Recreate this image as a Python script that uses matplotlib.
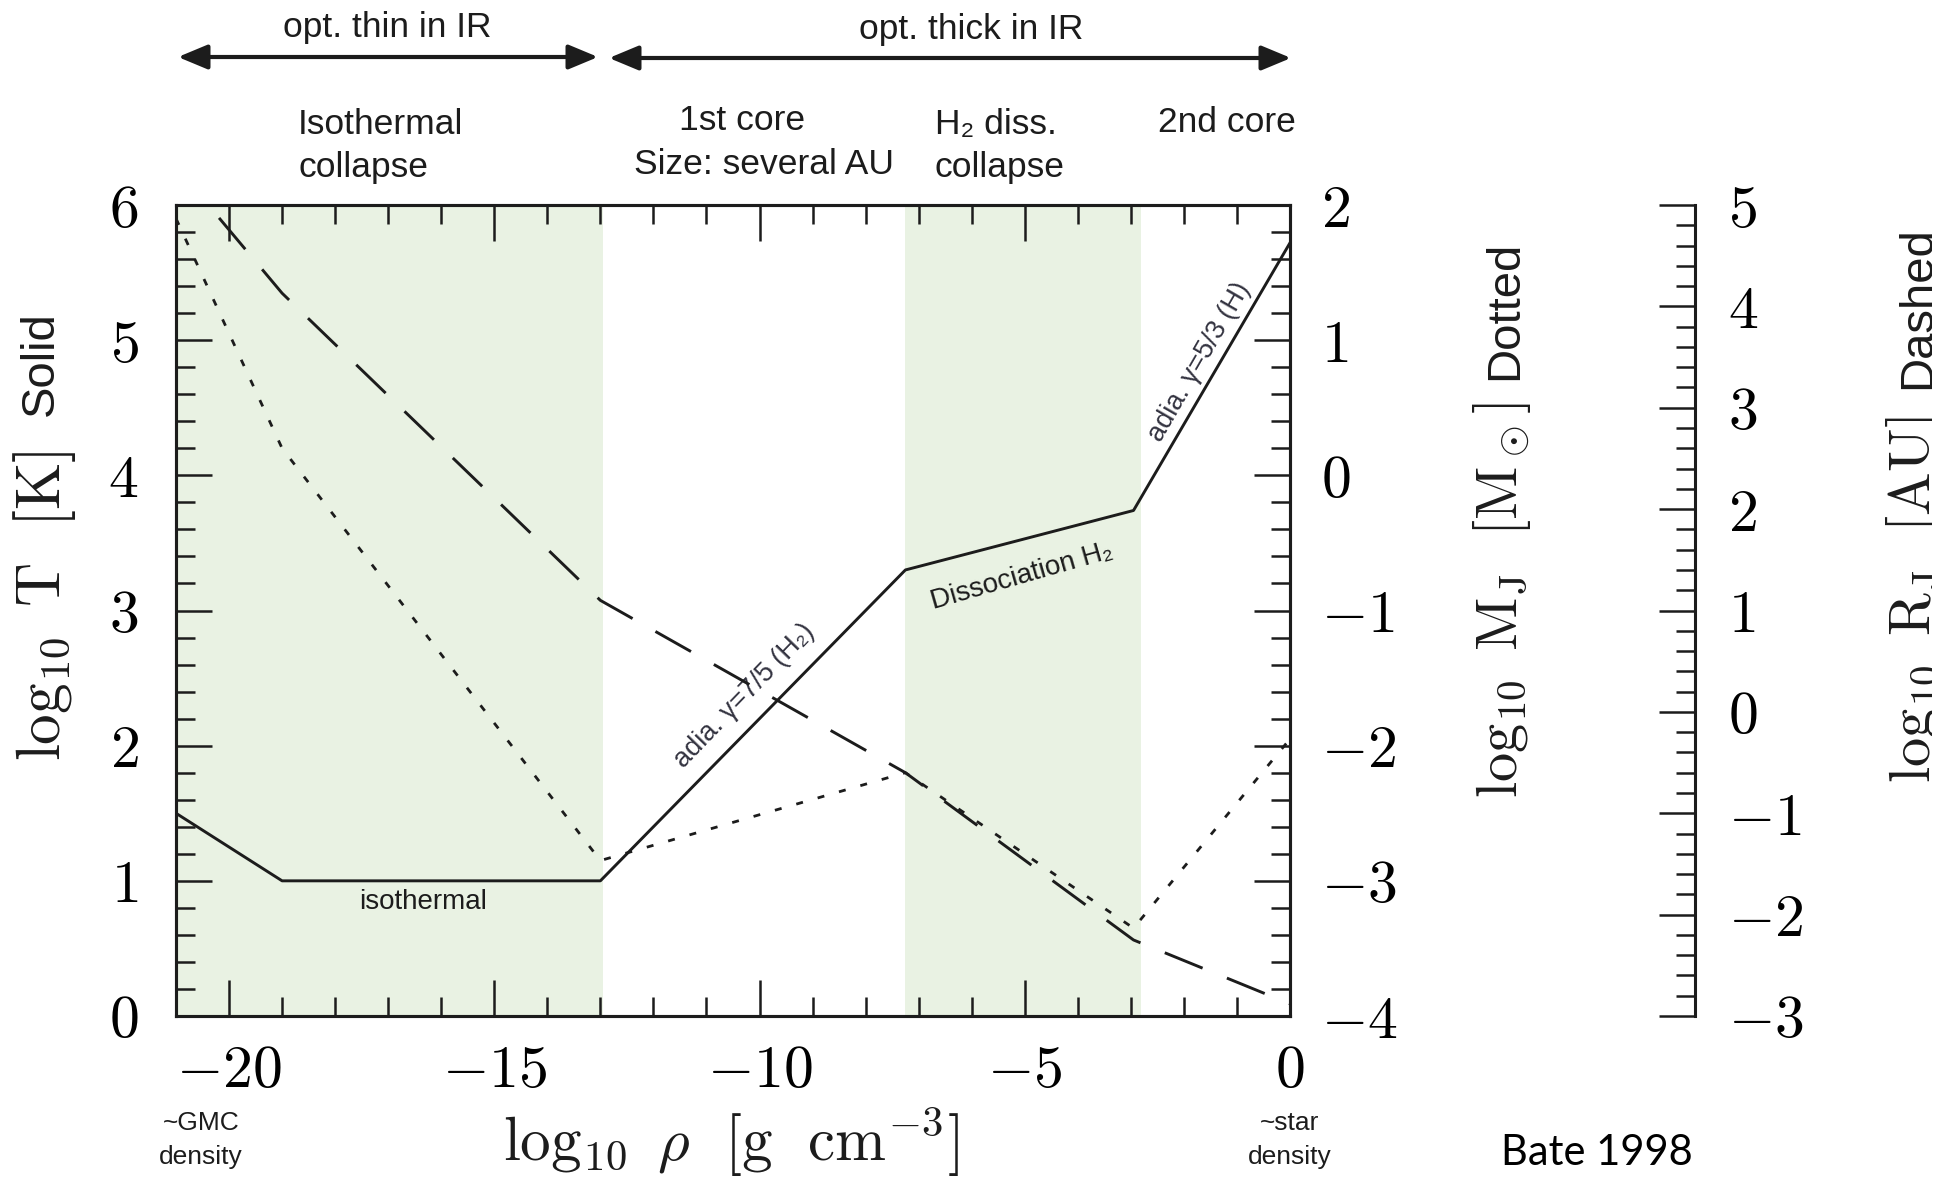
import matplotlib
matplotlib.use('Agg')
import matplotlib.pyplot as plt
from matplotlib import font_manager
from matplotlib.ticker import MultipleLocator, FuncFormatter
from matplotlib.transforms import Bbox, TransformedBbox

plt.rcParams['mathtext.fontset'] = 'cm'
installed = {f.name for f in font_manager.fontManager.ttflist}
sans = 'Liberation Sans' if 'Liberation Sans' in installed else 'DejaVu Sans'
plt.rcParams['font.family'] = [sans, 'DejaVu Sans']

# log10 rho [g cm^-3] at the break points of the three tracks
rho = [-21, -19, -13, -7.25, -2.95, 0]
log_T = [1.5, 1.0, 1.0, 3.3, 3.74, 5.72]        # solid, left axis
log_MJ = [1.9, 0.2, -2.85, -2.2, -3.35, -1.95]  # dotted, first right axis
log_RJ = [5.38, 4.13, 1.1, -0.6, -2.25, -2.88]  # dashed, second right axis

# shaded phases: isothermal collapse, H2 dissociation
shade_from = [-21, -7.25]
shade_to = [-12.95, -2.8]

W, H = 1950, 1183
ink = '#1c1c1c'


def fp(x, y):
    # full-size pixel position -> figure fraction
    return x / W, 1 - y / H


def intfmt(v, pos):
    return f'${int(round(v))}$'


fig = plt.figure(figsize=(W / 100, H / 100), dpi=100)
ax = fig.add_axes([176 / W, 1 - 1016 / H, 1114 / W, 811 / H])

for a, b in zip(shade_from, shade_to):
    ax.axvspan(a, b, color='#e9f2e3', lw=0, zorder=0)
ax.plot(rho, log_T, color=ink, lw=2.1, zorder=3)

ax.set_xlim(-21, 0)
ax.set_ylim(0, 6)
ax.xaxis.set_major_locator(MultipleLocator(5))
ax.xaxis.set_minor_locator(MultipleLocator(1))
ax.yaxis.set_major_locator(MultipleLocator(1))
ax.yaxis.set_minor_locator(MultipleLocator(0.2))
ax.xaxis.set_major_formatter(FuncFormatter(intfmt))
ax.yaxis.set_major_formatter(FuncFormatter(intfmt))
ax.tick_params(which='both', direction='in', top=True, bottom=True,
               left=True, right=False, color=ink, width=1.8)
ax.tick_params(which='major', length=26, labelsize=43)
ax.tick_params(axis='x', which='major', pad=20)
ax.tick_params(axis='y', which='major', pad=27)
ax.tick_params(which='minor', length=14)
for s in ax.spines.values():
    s.set_linewidth(2.2)
    s.set_color(ink)

# Jeans mass axis
ax2 = ax.twinx()
ax2.plot(rho, log_MJ, color=ink, lw=2.0, ls=(0, (2.5, 5.5)))
ax2.set_ylim(-4, 2)
ax2.yaxis.set_major_locator(MultipleLocator(1))
ax2.yaxis.set_minor_locator(MultipleLocator(0.2))
ax2.yaxis.set_major_formatter(FuncFormatter(intfmt))
ax2.tick_params(which='both', direction='in', right=True, left=False,
                color=ink, width=1.8)
ax2.tick_params(which='major', length=26, labelsize=43, pad=22)
ax2.tick_params(which='minor', length=14)
for s in ax2.spines.values():
    s.set_linewidth(2.2)
    s.set_color(ink)

# Jeans length axis, detached spine
ax3 = ax.twinx()
ax3.plot(rho, log_RJ, color=ink, lw=2.1, ls=(0, (14, 9)))
ax3.set_ylim(-3, 5)
ax3.spines['right'].set_position(('axes', (1695 - 176) / 1114))
for k in ['left', 'top', 'bottom']:
    ax3.spines[k].set_visible(False)
ax3.spines['right'].set_linewidth(2.2)
ax3.spines['right'].set_color(ink)
ax3.yaxis.set_major_locator(MultipleLocator(1))
ax3.yaxis.set_minor_locator(MultipleLocator(0.2))
ax3.yaxis.set_major_formatter(FuncFormatter(intfmt))
ax3.tick_params(which='both', direction='in', right=True, left=False,
                color=ink, width=1.8)
ax3.tick_params(which='major', length=26, labelsize=43, pad=24)
ax3.tick_params(which='minor', length=14)

# in-plot labels
lab = '#333340'
ax.text(-16.34, 0.84, 'isothermal', fontsize=20, color=ink, ha='center', va='center')
ax.text(-5.05, 3.25, 'Dissociation H₂', fontsize=20, color=ink, ha='center',
        va='center', rotation=16, rotation_mode='anchor')
ax.text(-10.29, 2.37, 'adia. γ=7/5 (H₂)', fontsize=19.5, color=lab, ha='center',
        va='center', rotation=46, rotation_mode='anchor')
ax.text(-1.70, 4.84, 'adia. γ=5/3 (H)', fontsize=19.5, color=lab, ha='center',
        va='center', rotation=60, rotation_mode='anchor')

# regime arrows and headings
arrow = dict(arrowstyle='<|-|>,head_length=0.6,head_width=0.25', lw=3,
             color=ink, mutation_scale=30, shrinkA=0, shrinkB=0)
ax.annotate('', xy=fp(178, 57), xytext=fp(598, 57), xycoords='figure fraction',
            textcoords='figure fraction', arrowprops=arrow, annotation_clip=False)
ax.annotate('', xy=fp(609, 58), xytext=fp(1291, 58), xycoords='figure fraction',
            textcoords='figure fraction', arrowprops=arrow, annotation_clip=False)

hs = 25.5
fig.text(*fp(387, 27), 'opt. thin in IR', fontsize=hs, ha='center', va='center', color=ink)
fig.text(*fp(971, 30), 'opt. thick in IR', fontsize=hs, ha='center', va='center', color=ink)
fig.text(*fp(298, 146), 'Isothermal\ncollapse', fontsize=hs, ha='left', va='center',
         linespacing=1.4, color=ink)
fig.text(*fp(742, 121), '1st core', fontsize=hs, ha='center', va='center', color=ink)
fig.text(*fp(764, 165), 'Size: several AU', fontsize=hs, ha='center', va='center', color=ink)
fig.text(*fp(935, 146), 'H₂ diss.\ncollapse', fontsize=hs, ha='left', va='center',
         linespacing=1.4, color=ink)
fig.text(*fp(1227, 122), '2nd core', fontsize=hs, ha='center', va='center', color=ink)

# axis titles
fig.text(*fp(44, 606), r'$\log_{10}\ \mathrm{T}\ \ [\mathrm{K}]$', fontsize=44,
         rotation=90, ha='center', va='center', color=ink)
fig.text(*fp(41, 364), 'Solid', fontsize=34, rotation=90, ha='center', va='center', color=ink)
fig.text(*fp(1502, 600), r'$\log_{10}\ \mathrm{M_J}\ \ [\mathrm{M}_\odot]$', fontsize=42,
         rotation=90, ha='center', va='center', color=ink)
fig.text(*fp(1505, 310), 'Dotted', fontsize=34, rotation=90, ha='center', va='center', color=ink)
clip = TransformedBbox(Bbox.from_extents(0, 0, 1932 / W, 1), fig.transFigure)
t1 = fig.text(*fp(1915, 600), r'$\log_{10}\ \mathrm{R_J}\ \ [\mathrm{AU}]$', fontsize=42,
              rotation=90, ha='center', va='center', color=ink, clip_on=True)
t2 = fig.text(*fp(1918, 308), 'Dashed', fontsize=34, rotation=90, ha='center',
              va='center', color=ink, clip_on=True)
t1.set_clip_box(clip)
t2.set_clip_box(clip)

fig.text(*fp(731, 1142), r'$\log_{10}\ \rho\ \ [\mathrm{g\ \ cm^{-3}}]$', fontsize=44,
         ha='center', va='center', color=ink)
fig.text(*fp(201, 1140), '~GMC\ndensity', fontsize=19, ha='center', va='center',
         linespacing=1.5, color=ink)
fig.text(*fp(1290, 1140), '~star\ndensity', fontsize=19, ha='center', va='center',
         linespacing=1.5, color=ink)
bate_font = ['Lato', 'DejaVu Sans'] if 'Lato' in installed else ['DejaVu Sans']
fig.text(*fp(1501, 1153), 'Bate 1998', fontsize=30, ha='left', va='center',
         family=bate_font, color='black')

fig.savefig('out.png', dpi=100)
